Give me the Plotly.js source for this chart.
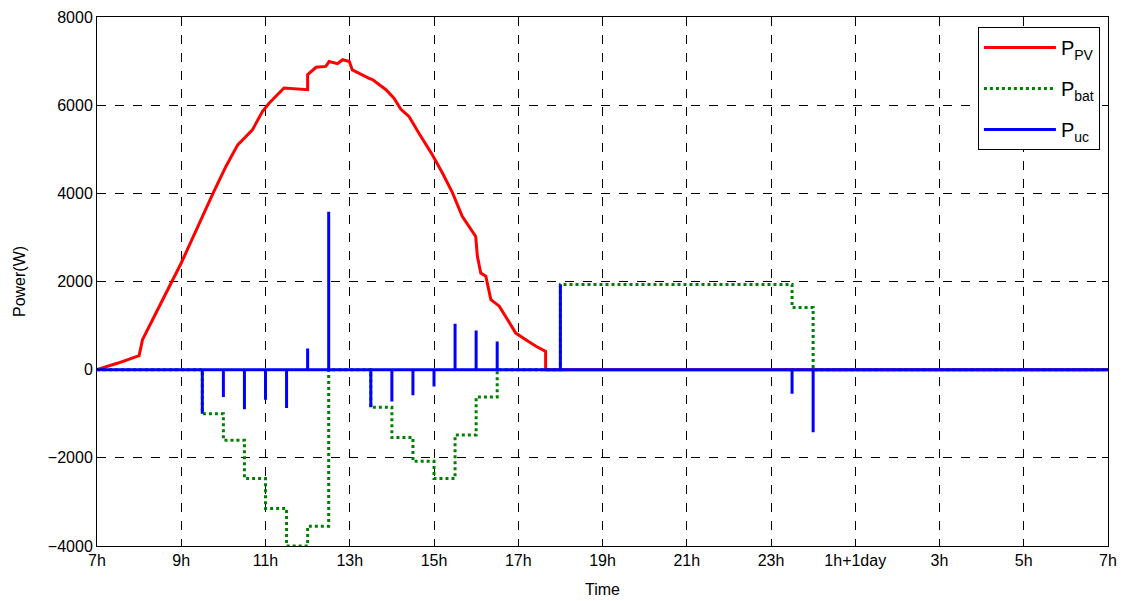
<!DOCTYPE html>
<html>
<head>
<meta charset="utf-8">
<script src="https://cdn.plot.ly/plotly-3.0.1.min.js"></script>
<style>html,body{margin:0;padding:0;background:#fff;}#chart{width:1125px;height:601px;}</style>
</head>
<body>
<div id="chart"></div>
<script>
// Time in hours (7 = 7h, 31 = 7h next day)
const pvTime = [7, 7.5, 8.0, 8.08, 8.4, 8.76, 9.0, 9.74, 10.06, 10.34, 10.69, 10.93, 11.09, 11.44, 12.0, 12.0, 12.2, 12.43, 12.51, 12.71, 12.83, 12.99, 13.06, 13.46, 13.54, 13.86, 14.05, 14.21, 14.41, 14.65, 14.96, 15.2, 15.44, 15.67, 15.99, 16.03, 16.11, 16.23, 16.35, 16.55, 16.7, 16.94, 17.18, 17.42, 17.65, 17.65, 31];
const pvPower = [0, 150, 320, 680, 1285, 1965, 2420, 3970, 4610, 5100, 5440, 5860, 6050, 6390, 6350, 6690, 6860, 6880, 6990, 6940, 7030, 6990, 6800, 6610, 6580, 6350, 6160, 5910, 5740, 5350, 4875, 4460, 4010, 3480, 3020, 2570, 2190, 2120, 1590, 1440, 1210, 830, 680, 530, 415, 0, 0];

const batTime = [7, 9.5, 10, 10.5, 11, 11.5, 12, 12.5, 13.5, 14, 14.5, 15, 15.5, 16, 16.5, 18, 23.5, 24, 31];
const batPower = [0, -1000, -1600, -2470, -3150, -4000, -3550, 0, -850, -1540, -2080, -2470, -1480, -620, 0, 1930, 1410, 0, 0];

const ucTime = [9.5, 10, 10.5, 11, 11.5, 12, 12.5, 13.5, 14, 14.5, 15, 15.5, 16, 16.5, 18, 23.5, 24];
const ucPower = [-1000, -620, -900, -680, -870, 480, 3580, -850, -720, -580, -380, 1040, 890, 640, 1930, -545, -1420];

const tickVals = [7, 9, 11, 13, 15, 17, 19, 21, 23, 25, 27, 29, 31];
const tickText = ['7h', '9h', '11h', '13h', '15h', '17h', '19h', '21h', '23h', '1h+1day', '3h', '5h', '7h'];

// build spike series for ultracapacitor
const ucX = [7], ucY = [0];
for (let i = 0; i < ucTime.length; i++) {
  ucX.push(ucTime[i], ucTime[i], ucTime[i]);
  ucY.push(0, ucPower[i], 0);
}
ucX.push(31); ucY.push(0);

const font = {family: 'Arial, "Liberation Sans", sans-serif', size: 16, color: '#000'};

const traces = [
  {x: pvTime, y: pvPower, mode: 'lines', name: 'P<sub>PV</sub>', legendgroup: 'a',
   line: {color: '#ff0000', width: 3}},
  {x: batTime, y: batPower, mode: 'lines', name: 'P<sub>bat</sub>', legendgroup: 'b',
   line: {color: '#008000', width: 3, dash: 'dot', shape: 'hv'}},
  {x: ucX, y: ucY, mode: 'lines', name: 'P<sub>uc</sub>', legendgroup: 'c',
   line: {color: '#0000ff', width: 3}}
];

const axisCommon = {
  showline: true, linecolor: '#000', linewidth: 1, mirror: 'ticks',
  ticks: 'inside', ticklen: 6, tickcolor: '#000',
  showgrid: true, gridcolor: '#000', gridwidth: 1, griddash: 'dash',
  zeroline: false, tickfont: font
};

const layout = {
  width: 1125, height: 601,
  margin: {l: 97, r: 17, t: 17, b: 55},
  paper_bgcolor: '#fff', plot_bgcolor: '#fff',
  font: font,
  showlegend: true,
  legend: {x: 0.992, xanchor: 'right', y: 0.981, yanchor: 'top',
    bgcolor: '#fff', bordercolor: '#000', borderwidth: 1,
    font: {family: font.family, size: 20, color: '#000'},
    itemwidth: 72, tracegroupgap: 12},
  xaxis: Object.assign({}, axisCommon, {
    range: [7, 31], tickvals: tickVals, ticktext: tickText,
    title: {text: 'Time', font: font, standoff: 15}
  }),
  yaxis: Object.assign({}, axisCommon, {
    range: [-4000, 8000], tickvals: [-4000, -2000, 0, 2000, 4000, 6000, 8000],
    title: {text: 'Power(W)', font: font, standoff: 18}
  })
};

Plotly.newPlot('chart', traces, layout, {displayModeBar: false, staticPlot: true});
</script>
</body>
</html>
